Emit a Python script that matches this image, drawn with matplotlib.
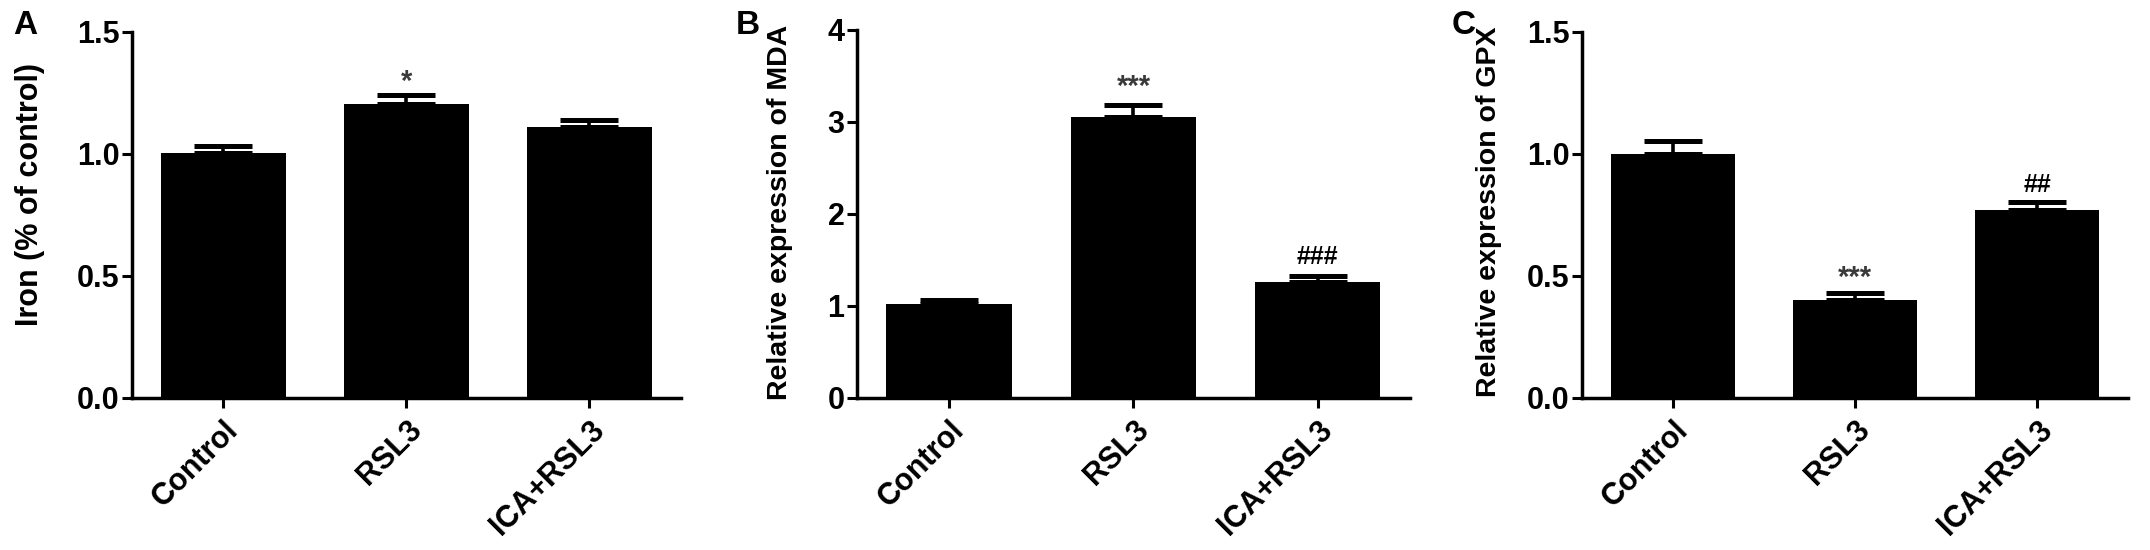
import matplotlib
matplotlib.use("Agg")
import matplotlib.pyplot as plt

# groups on the x axis
groups = ["Control", "RSL3", "ICA+RSL3"]

# panel A: iron
iron_mean = [1.005, 1.205, 1.11]
iron_err = [0.028, 0.035, 0.03]
iron_marks = ["", "*", ""]
iron_mark_y = [0, 1.33, 0]

# panel B: MDA
mda_mean = [1.02, 3.05, 1.26]
mda_err = [0.045, 0.13, 0.07]
mda_marks = ["", "***", "###"]
mda_mark_y = [0, 3.48, 1.55]

# panel C: GPX
gpx_mean = [1.00, 0.40, 0.77]
gpx_err = [0.055, 0.03, 0.032]
gpx_marks = ["", "***", "##"]
gpx_mark_y = [0, 0.53, 0.88]

plt.rcParams["font.family"] = ["Liberation Sans", "DejaVu Sans"]
plt.rcParams["font.weight"] = "bold"

fig = plt.figure(figsize=(21.5, 5.5), dpi=100)

panels = [
    # letter, letter x, axes rect, means, errs, marks, mark y,
    # ylabel, label size, label pos, ymax, ticks, tick labels
    ("A", 0.006, [0.0614, 0.2764, 0.2553, 0.6655], iron_mean, iron_err, iron_marks, iron_mark_y,
     "Iron (% of control)", 22, (-0.158, 0.555), 1.5,
     [0, 0.5, 1.0, 1.5], ["0.0", "0.5", "1.0", "1.5"]),
    ("B", 0.342, [0.3986, 0.2764, 0.2572, 0.6691], mda_mean, mda_err, mda_marks, mda_mark_y,
     "Relative expression of MDA", 20.5, (-0.116, 0.505), 4,
     [0, 1, 2, 3, 4], ["0", "1", "2", "3", "4"]),
    ("C", 0.675, [0.7358, 0.2764, 0.2540, 0.6655], gpx_mean, gpx_err, gpx_marks, gpx_mark_y,
     "Relative expression of GPX", 20.5, (-0.147, 0.51), 1.5,
     [0, 0.5, 1.0, 1.5], ["0.0", "0.5", "1.0", "1.5"]),
]

x = list(range(len(groups)))

for (letter, lx, rect, means, errs, marks, mark_y, ylabel, lsize, lpos, ymax,
     yticks, yticklabels) in panels:
    ax = fig.add_axes(rect)
    ax.bar(x, means, width=0.68, color="black", linewidth=0, zorder=2)
    ax.errorbar(x, means, yerr=[[0] * len(errs), errs], fmt="none",
                ecolor="black", elinewidth=2.6, capsize=21, capthick=3.6,
                zorder=3)
    # significance marks, centred on the given y
    for xi, s, my in zip(x, marks, mark_y):
        if not s:
            continue
        if s.startswith("*"):
            fs, col, shift = 21, "#3a3a3a", 0.58
        else:
            fs, col, shift = 18, "black", 0.36
        ax.annotate(s, xy=(xi, my), xytext=(0, -shift * fs),
                    textcoords="offset points", ha="center", va="baseline",
                    fontsize=fs, fontweight="bold", color=col)
    ax.set_xlim(-0.5, 2.5)
    ax.set_ylim(0, ymax)
    ax.set_yticks(yticks)
    ax.set_yticklabels(yticklabels, fontsize=22, fontweight="bold")
    ax.set_xticks(x)
    ax.set_xticklabels(groups, rotation=45, ha="right", rotation_mode="anchor",
                       fontsize=22, fontweight="bold")
    ax.set_ylabel(ylabel, fontsize=lsize, fontweight="bold")
    ax.yaxis.set_label_coords(*lpos)
    for side in ["top", "right"]:
        ax.spines[side].set_visible(False)
    for side in ["left", "bottom"]:
        ax.spines[side].set_linewidth(2.5)
    ax.tick_params(axis="y", length=7, width=2.2, pad=2)
    ax.tick_params(axis="x", length=7, width=2.2, pad=5)
    fig.text(lx, 0.953, letter, fontsize=24, fontweight="bold",
             va="center", ha="left")

fig.savefig("out.png", dpi=100)
